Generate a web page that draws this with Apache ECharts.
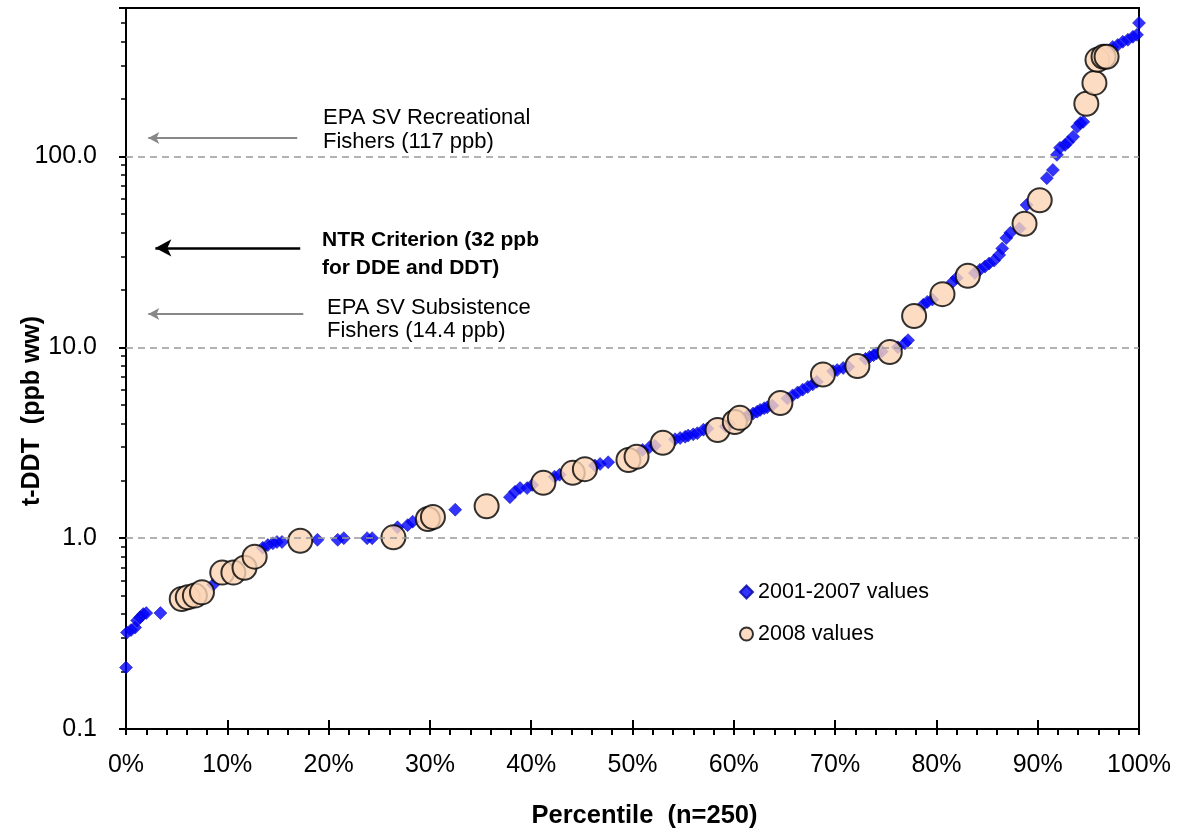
<!DOCTYPE html>
<html>
<head>
<meta charset="utf-8">
<title>t-DDT percentile plot</title>
<script src="https://cdn.jsdelivr.net/npm/echarts@6.0.0/dist/echarts.min.js"></script>
<style>
    html, body { margin: 0; padding: 0; background: #fff; }
    #chart { width: 1177px; height: 830px; }
</style>
</head>
<body>
<div id="chart"></div>
<script>
// 2001-2007 values (percentile, ppb ww)
var pctPast = [0, 0.1, 0.5, 0.9, 1.1, 1.4, 1.7, 2.0, 3.4, 8.6,
    13.5, 14.0, 14.5, 14.9, 15.4, 18.9, 20.9, 21.5, 23.8, 24.3,
    26.8, 27.8, 28.3, 32.5, 37.9, 38.4, 38.9, 39.6, 40.1, 42.3,
    42.8, 46.3, 46.8, 47.6, 51.0, 51.7, 52.2, 54.2, 54.7, 55.2,
    55.5, 56.0, 56.4, 57.0, 57.4, 59.2, 59.6, 61.4, 61.9, 62.3,
    62.6, 63.0, 63.3, 63.8, 65.3, 65.8, 66.3, 66.8, 67.3, 67.8,
    68.2, 69.8, 70.2, 70.8, 71.3, 73.0, 73.4, 73.8, 74.1, 74.6,
    76.2, 76.9, 77.2, 78.7, 79.1, 79.6, 81.6, 82.0, 83.8, 84.3,
    84.8, 85.2, 85.7, 86.2, 86.5, 86.9, 87.3, 88.2, 88.9, 90.9,
    91.5, 91.9, 92.2, 92.7, 93.0, 93.5, 93.9, 94.2, 94.5, 97.4,
    97.9, 98.4, 98.9, 99.4, 99.8, 100];
var ppbPast = [0.21, 0.32, 0.33, 0.34, 0.37, 0.385, 0.40, 0.405, 0.405, 0.57,
    0.89, 0.92, 0.94, 0.955, 0.955, 0.98, 0.98, 1.0, 1.0, 1.0,
    1.14, 1.17, 1.22, 1.41, 1.64, 1.75, 1.83, 1.83, 1.90, 2.1,
    2.15, 2.4, 2.45, 2.5, 2.9, 3.0, 3.05, 3.3, 3.35, 3.4,
    3.45, 3.5, 3.55, 3.7, 3.75, 3.85, 3.95, 4.4, 4.5, 4.6,
    4.7, 4.8, 4.85, 4.95, 5.4, 5.6, 5.8, 6.0, 6.2, 6.4,
    6.6, 7.5, 7.6, 7.8, 7.9, 8.7, 8.9, 9.1, 9.3, 9.5,
    10.0, 10.5, 10.9, 16.7, 17.3, 17.8, 22.0, 23.1, 24.5, 25.5,
    26.5, 27.5, 28.5, 30.5, 33, 37.4, 39.8, 42, 55.7, 77,
    85, 102, 111, 115, 119, 127, 143, 150, 152, 375,
    384, 399, 409, 424, 434, 501];

// 2008 values
var pct2008 = [5.5, 6.1, 6.8, 7.5, 9.5, 10.6, 11.7, 12.7, 17.2, 26.4,
    29.8, 30.3, 35.6, 41.2, 44.1, 45.3, 49.6, 50.4, 53.0, 58.4,
    60.1, 60.6, 64.6, 68.8, 72.2, 75.4, 77.8, 80.6, 83.1, 88.7,
    90.2, 94.8, 95.6, 95.9, 96.5, 96.8];
var ppb2008 = [0.48, 0.49, 0.50, 0.52, 0.66, 0.66, 0.70, 0.80, 0.97, 1.01,
    1.26, 1.29, 1.47, 1.95, 2.2, 2.3, 2.57, 2.67, 3.16, 3.69,
    4.06, 4.27, 5.11, 7.2, 7.98, 9.46, 14.6, 19.0, 23.7, 44.4,
    59.0, 189, 243, 321, 333, 333];

var yLabelValues = [0.1, 1, 10, 100];
var yGridLines = [1, 10, 100];
var yMinorTicks = [0.2, 0.3, 0.4, 0.5, 0.6, 0.7, 0.8, 0.9,
    2, 3, 4, 5, 6, 7, 8, 9,
    20, 30, 40, 50, 60, 70, 80, 90,
    200, 300, 400, 500];

var fontFamily = 'Liberation Sans, Arial, sans-serif';

var pastData = pctPast.map(function (p, i) { return [p, ppbPast[i]]; });
var newData = pct2008.map(function (p, i) { return [p, ppb2008[i]]; });

var gridLineData = yGridLines.map(function (v) { return { yAxis: v }; });
var arrowData = [
    [
        { coord: [16.9, 125], symbol: 'none', lineStyle: { color: '#888', width: 2, type: 'solid' } },
        { coord: [2.2, 125], symbol: 'arrow', symbolSize: [9, 11] }
    ],
    [
        { coord: [17.2, 33.2], symbol: 'none', lineStyle: { color: '#000', width: 2.5, type: 'solid' } },
        { coord: [2.9, 33.2], symbol: 'arrow', symbolSize: [13, 16] }
    ],
    [
        { coord: [17.5, 14.95], symbol: 'none', lineStyle: { color: '#888', width: 2, type: 'solid' } },
        { coord: [2.2, 14.95], symbol: 'arrow', symbolSize: [9, 11] }
    ]
];

var myChart = echarts.init(document.getElementById('chart'), null, { renderer: 'canvas' });

var option = {
    animation: false,
    backgroundColor: '#fff',
    grid: {
        left: 126, right: 38, top: 8, bottom: 101,
        outerBoundsMode: 'none',
        containLabel: false,
        show: true,
        borderColor: '#000',
        borderWidth: 2,
        backgroundColor: 'transparent'
    },
    legend: {
        orient: 'vertical',
        left: 734,
        top: 576,
        itemWidth: 13,
        itemHeight: 13,
        itemGap: 20,
        textStyle: { fontFamily: fontFamily, fontSize: 21.5, lineHeight: 21, color: '#000' },
        data: [
            { name: '2001-2007 values', icon: 'diamond' },
            { name: '2008 values', icon: 'circle' }
        ]
    },
    xAxis: [{
        type: 'value',
        min: 0, max: 100, interval: 10,
        position: 'bottom',
        axisLine: { show: true, lineStyle: { color: '#000', width: 2 } },
        axisTick: { show: true, length: 6, lineStyle: { color: '#000', width: 2 } },
        minorTick: { show: true, splitNumber: 5, length: 6, lineStyle: { color: '#000', width: 2 } },
        axisLabel: {
            formatter: '{value}%', margin: 24,
            fontFamily: fontFamily, fontSize: 25, color: '#000'
        },
        splitLine: { show: false },
        name: 'Percentile  (n=250)',
        nameLocation: 'middle',
        nameGap: 74,
        nameTextStyle: {
            fontFamily: fontFamily, fontSize: 25.5, fontWeight: 'bold', color: '#000',
            padding: [0, 0, 0, 24]
        }
    }, {
        type: 'value',
        min: 0, max: 100, interval: 10,
        position: 'bottom',
        axisLine: { show: false },
        axisTick: { show: true, inside: true, length: 9, lineStyle: { color: '#000', width: 2 } },
        axisLabel: { show: false },
        splitLine: { show: false }
    }],
    yAxis: [{
        type: 'log',
        logBase: 10,
        min: 0.1, max: 600,
        axisLine: { show: true, lineStyle: { color: '#000', width: 2 } },
        axisTick: { show: true, length: 7, lineStyle: { color: '#000', width: 2 } },
        axisLabel: {
            customValues: yLabelValues,
            formatter: function (v) { return Number(v).toFixed(1); },
            margin: 29,
            fontFamily: fontFamily, fontSize: 25, color: '#000'
        },
        splitLine: { show: false }
    }, {
        type: 'log',
        logBase: 10,
        min: 0.1, max: 600,
        position: 'left',
        axisLine: { show: false },
        axisTick: { show: true, length: 5, customValues: yMinorTicks, lineStyle: { color: '#000', width: 1.5 } },
        axisLabel: { show: false },
        splitLine: { show: false }
    }],
    graphic: [
        {
            type: 'text', x: 32, y: 411, rotation: Math.PI / 2,
            style: {
                text: 't-DDT  (ppb ww)', font: 'bold 25px ' + fontFamily, fill: '#000',
                align: 'center', verticalAlign: 'middle'
            }
        },
        {
            type: 'text', x: 323, y: 106,
            style: {
                text: 'EPA SV Recreational\nFishers (117 ppb)', font: '22px ' + fontFamily,
                fill: '#000', lineHeight: 24, verticalAlign: 'top'
            }
        },
        {
            type: 'text', x: 322, y: 226,
            style: {
                text: 'NTR Criterion (32 ppb\nfor DDE and DDT)', font: 'bold 21px ' + fontFamily,
                fill: '#000', lineHeight: 28, verticalAlign: 'top'
            }
        },
        {
            type: 'text', x: 327, y: 296,
            style: {
                text: 'EPA SV Subsistence\nFishers (14.4 ppb)', font: '22px ' + fontFamily,
                fill: '#000', lineHeight: 23, verticalAlign: 'top'
            }
        }
    ],
    series: [
        {
            name: 'gridlines',
            type: 'scatter',
            data: [],
            markLine: {
                silent: true,
                animation: false,
                symbol: 'none',
                label: { show: false },
                lineStyle: { color: '#999', width: 1.5, type: [7, 5] },
                data: gridLineData
            }
        },
        {
            name: '2001-2007 values',
            type: 'scatter',
            xAxisIndex: 0,
            yAxisIndex: 0,
            symbol: 'diamond',
            symbolSize: 13,
            itemStyle: { color: '#0000FF', borderColor: '#00009C', borderWidth: 0.6 },
            data: pastData,
            markLine: {
                silent: true,
                animation: false,
                label: { show: false },
                data: arrowData
            }
        },
        {
            name: '2008 values',
            type: 'scatter',
            xAxisIndex: 0,
            yAxisIndex: 0,
            symbol: 'circle',
            symbolSize: 24,
            itemStyle: { color: '#FBD5B5', borderColor: '#000', borderWidth: 2 },
            data: newData
        }
    ]
};

myChart.setOption(option, true);
</script>
</body>
</html>
